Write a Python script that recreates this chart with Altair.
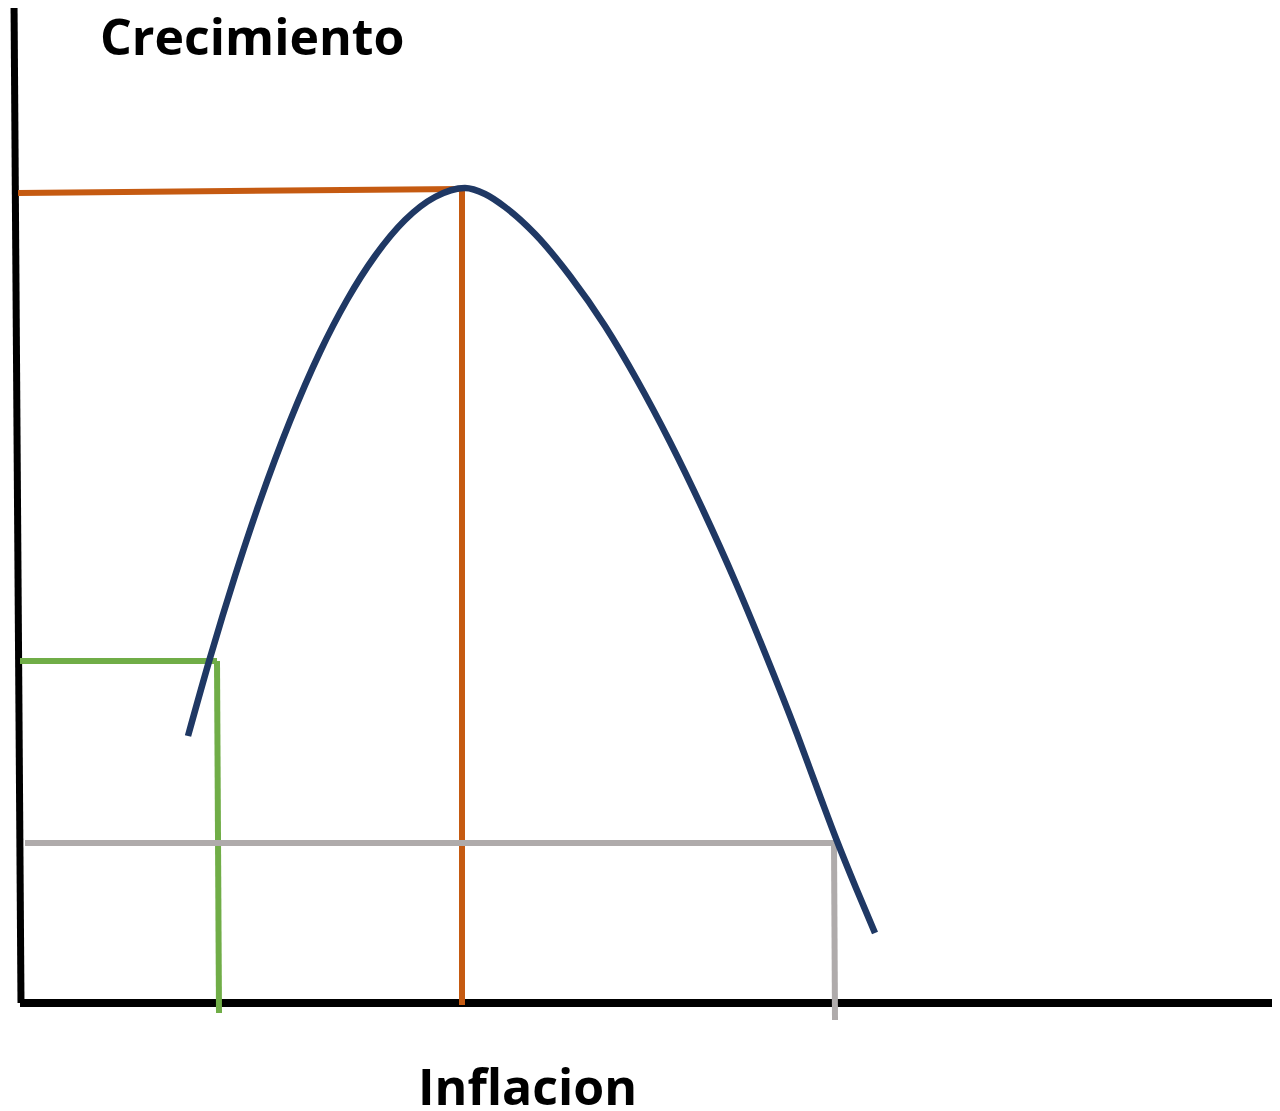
import altair as alt
import pandas as pd

# Curve (inflacion vs crecimiento), read in picture units (x right, y down)
curve_x = [188, 210, 235, 260, 290, 320, 347, 375, 405, 435, 465,
           485, 505, 535, 570, 605, 637, 670, 703, 735, 765, 797, 820, 837, 856, 875]
curve_y = [736, 658, 576, 501, 421, 352, 300, 256, 220, 197, 188,
           194, 207, 234, 276, 326, 380, 442, 510, 581, 653, 734, 796, 841, 888, 933]

# Guide segments: x1, y1, x2, y2, colour, width
seg_x1 = [14, 20, 18, 462, 20, 217, 25, 834]
seg_y1 = [0, 1003, 193, 190, 661, 661, 843, 843]
seg_x2 = [21, 1280, 462, 462, 217, 219, 834, 835]
seg_y2 = [1003, 1003, 189, 1005, 661, 1013, 843, 1020]
seg_color = ["#000000", "#000000", "#C55A11", "#C55A11", "#70AD47", "#70AD47", "#AFABAB", "#AFABAB"]
seg_width = [7, 8, 6, 6, 6, 6, 6, 6]

labels = ["Crecimiento", "Inflacion"]
label_x = [100, 418]
label_y = [55, 1105]

xs = alt.Scale(domain=[8, 1272], nice=False, zero=False)
ys = alt.Scale(domain=[8, 1103], nice=False, zero=False, reverse=True)

segs = pd.DataFrame({"x1": seg_x1, "y1": seg_y1, "x2": seg_x2, "y2": seg_y2,
                     "c": seg_color, "w": seg_width})
curve = pd.DataFrame({"x": curve_x, "y": curve_y})
texts = pd.DataFrame({"t": labels, "x": label_x, "y": label_y})

rules = alt.Chart(segs).mark_rule(strokeCap="butt").encode(
    x=alt.X("x1:Q", scale=xs, axis=None),
    y=alt.Y("y1:Q", scale=ys, axis=None),
    x2="x2:Q",
    y2="y2:Q",
    color=alt.Color("c:N", scale=None),
    strokeWidth=alt.StrokeWidth("w:Q", scale=None),
)

line = alt.Chart(curve).mark_line(
    color="#1F3864", strokeWidth=6.5, interpolate="monotone", strokeCap="butt"
).encode(
    x=alt.X("x:Q", scale=xs, axis=None),
    y=alt.Y("y:Q", scale=ys, axis=None),
    order=alt.Order("x:Q"),
)

text = alt.Chart(texts).mark_text(
    align="left", baseline="alphabetic", font="Open Sans", fontWeight="bold",
    fontSize=50, color="#000000"
).encode(
    x=alt.X("x:Q", scale=xs, axis=None),
    y=alt.Y("y:Q", scale=ys, axis=None),
    text="t:N",
)

chart = alt.layer(rules, line, text).properties(
    width=1264, height=1095,
    padding={"left": 0, "top": 0, "right": 0, "bottom": 8},
    autosize=alt.AutoSizeParams(type="none"),
).configure_view(stroke=None, strokeWidth=0)

chart.save("out.html", embed_options={"renderer": "svg", "actions": False})
